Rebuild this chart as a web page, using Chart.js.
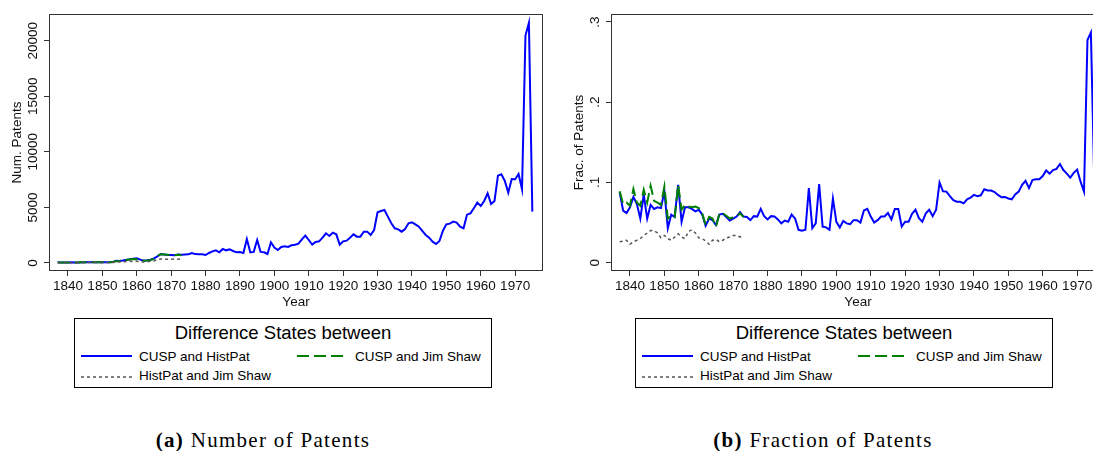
<!DOCTYPE html>
<html>
<head>
<meta charset="utf-8">
<script src="https://cdn.jsdelivr.net/npm/chart.js@4.4.1/dist/chart.umd.min.js"></script>
<style>
  html, body { margin: 0; padding: 0; background: #fff; }
  body { width: 1093px; height: 451px; overflow: hidden; position: relative; font-family: "Liberation Sans", Arial, sans-serif; }
  .panel { position: absolute; top: 0; }
  .legend { position: absolute; top: 318px; width: 416px; height: 68px; border: 1px solid #000; }
  .ltitle { position: absolute; left: 0; right: 0; top: 4px; text-align: center; font-size: 18.5px; line-height: 20px; color: #000; white-space: nowrap; }
  .item { position: absolute; font-size: 13.5px; line-height: 16px; color: #000; white-space: nowrap; }
  .swatch { position: absolute; }
  .caption { position: absolute; top: 430px; width: 400px; text-align: center; font-family: "Liberation Serif", "Times New Roman", serif; font-size: 21px; line-height: 20px; letter-spacing: 1.3px; color: #000; white-space: nowrap; }
</style>
</head>
<body>
<canvas id="numChart" class="panel" width="561" height="312" style="left:0px"></canvas>
<canvas id="fracChart" class="panel" width="561" height="312" style="left:562px"></canvas>
<div id="legendA" class="legend" style="left:74px"></div>
<div id="legendB" class="legend" style="left:635px"></div>
<div class="caption" style="left:63px"><b>(a)</b> Number of Patents</div>
<div class="caption" style="left:623px"><b>(b)</b> Fraction of Patents</div>

<script>
// years 1837 .. 1975
const firstYear = 1837;
const lastYear = 1975;
const years = [];
for (let y = firstYear; y <= lastYear; y++) years.push(y);

const xTicks = [1840, 1850, 1860, 1870, 1880, 1890, 1900, 1910, 1920, 1930, 1940, 1950, 1960, 1970];

const legendTitle = "Difference States between";
const seriesLabels = ["CUSP and HistPat", "CUSP and Jim Shaw", "HistPat and Jim Shaw"];

// number of patents
const numCuspHistpat = [
    60, 50, 50,
    50, 60, 50, 50, 60, 60, 60, 60, 60, 70,
    70, 60, 70, 80, 210, 180, 230, 300, 330, 380,
    420, 300, 210, 250, 300, 420, 600, 810, 760, 720,
    720, 700, 760, 740, 760, 780, 900, 800, 780, 780,
    720, 900, 1050, 1140, 960, 1260, 1140, 1230, 1080, 960,
    980, 900, 2160, 960, 1000, 2070, 1000, 960, 810, 1860,
    1380, 1170, 1440, 1500, 1440, 1590, 1650, 1740, 2130, 2460,
    2070, 1650, 1890, 1950, 2280, 2670, 2430, 2730, 2580, 1650,
    1950, 2010, 2280, 2580, 2370, 2370, 2820, 2820, 2520, 2970,
    4560, 4680, 4770, 4170, 3570, 3120, 3030, 2820, 3060, 3570,
    3660, 3480, 3270, 2880, 2520, 2280, 1920, 1710, 1980, 2910,
    3480, 3540, 3720, 3630, 3270, 3120, 4350, 4470, 4920, 5430,
    5130, 5580, 6270, 5310, 5580, 7860, 7980, 7380, 6330, 7560,
    7530, 8010, 6630, 20460, 21600, 4620
];
const numCuspShaw = [
    50, 50, 50,
    50, 60, 50, 50, 60, 60, 60, 60, 60, 60,
    70, 60, 70, 80, 150, 180, 230, 280, 320, 350,
    330, 260, 200, 230, 280, 360, 650, 780, 760, 740,
    720, 700, 740, 700
];
const numHistpatShaw = [
    30, 20, 30,
    20, 30, 30, 20, 30, 30, 40, 30, 40, 40,
    30, 40, 30, 40, 80, 90, 100, 130, 150, 140,
    160, 130, 100, 110, 150, 180, 330, 360, 350, 330,
    340, 350, 340, 360
];

// fraction of patents
const fracCuspHistpat = [
    .088, .065, .062,
    .069, .082, .073, .055, .085, .055, .072, .067, .069, .068,
    .089, .043, .060, .057, .097, .051, .069, .069, .067, .064,
    .066, .060, .046, .055, .053, .047, .060, .061, .057, .0525,
    .055, .0575, .063, .0575, .057, .053, .058, .0575, .067, .058,
    .054, .058, .0575, .054, .049, .0525, .051, .060, .055, .041,
    .040, .041, .093, .043, .049, .098, .045, .044, .041, .080,
    .051, .044, .052, .049, .048, .053, .053, .050, .065, .067,
    .0575, .050, .053, .0575, .0575, .062, .054, .067, .067, .045,
    .051, .051, .061, .066, .0555, .051, .0615, .066, .058, .066,
    .100, .089, .0886, .083, .078, .076, .076, .074, .079, .081,
    .0845, .083, .084, .0915, .090, .090, .088, .0845, .0815, .082,
    .080, .079, .085, .0886, .097, .102, .093, .103, .104, .104,
    .108, .115, .111, .1155, .117, .123, .1155, .111, .106, .112,
    .116, .101, .0886, .2775, .2868, .098
];
const fracCuspShaw = [
    .089, .073, .075,
    .071, .092, .075, .071, .091, .075, .096, .077, .075, .072,
    .095, .055, .059, .057, .097, .066, .072, .070, .069, .070,
    .068, .0615, .047, .057, .055, .045, .0615, .0615, .0586, .055,
    .0565, .058, .0615, .057
];
const fracHistpatShaw = [
    .026, .027, .028,
    .023, .026, .028, .030, .034, .037, .040, .040, .037, .031,
    .034, .030, .028, .032, .036, .032, .030, .039, .041, .037,
    .031, .030, .027, .023, .028, .029, .026, .028, .031, .032,
    .034, .034, .032, .035
];

const numTicks = [0, 5000, 10000, 15000, 20000];
const numTickLabels = ["0", "5000", "10000", "15000", "20000"];
const fracTicks = [0, 0.1, 0.2, 0.3];
const fracTickLabels = ["0", ".1", ".2", ".3"];

const seriesColors = ["#0000ff", "#008000", "#555555"];
const seriesDash = [[], [12, 5], [3, 3]];
const seriesWidth = [2, 2, 1.5];
const seriesOrder = [3, 2, 1];

const fontFamily = "'Liberation Sans', Arial, sans-serif";
const textColor = "#111";

function toPoints(values) {
    return values.map((v, i) => ({ x: years[i], y: v }));
}

const framePlugin = {
    id: "frame",
    afterDraw(chart) {
        const a = chart.chartArea;
        const c = chart.ctx;
        c.save();
        c.strokeStyle = "#333";
        c.lineWidth = 1;
        c.strokeRect(a.left + 0.5, a.top + 0.5, a.right - a.left - 1, a.bottom - a.top - 1);
        c.restore();
    }
};

function makeChart(canvasId, seriesValues, yInfo) {
    const ctx = document.getElementById(canvasId).getContext("2d");
    return new Chart(ctx, {
        type: "line",
        data: {
            datasets: seriesValues.map((vals, i) => ({
                label: seriesLabels[i],
                data: toPoints(vals),
                borderColor: seriesColors[i],
                borderWidth: seriesWidth[i],
                borderDash: seriesDash[i],
                order: seriesOrder[i],
                pointRadius: 0,
                tension: 0,
                fill: false
            }))
        },
        options: {
            responsive: false,
            animation: false,
            layout: { padding: { top: 14, right: 18, bottom: 0, left: 0 } },
            plugins: {
                legend: { display: false },
                tooltip: { enabled: false }
            },
            scales: {
                x: {
                    type: "linear",
                    min: 1834.48,
                    max: 1978.1,
                    afterBuildTicks: s => { s.ticks = xTicks.map(v => ({ value: v })); },
                    afterFit: s => { s.height = 41; },
                    border: { display: false },
                    grid: { display: true, drawOnChartArea: false, drawTicks: true, tickLength: 5, tickColor: "#333" },
                    ticks: {
                        autoSkip: false, maxRotation: 0, minRotation: 0, padding: 2,
                        color: textColor, font: { family: fontFamily, size: 13.5 },
                        callback: v => String(v)
                    },
                    title: {
                        display: true, text: "Year", color: textColor,
                        font: { family: fontFamily, size: 13.5 },
                        padding: { top: 0, bottom: 2 }
                    }
                },
                y: {
                    type: "linear",
                    min: yInfo.min,
                    max: yInfo.max,
                    afterBuildTicks: s => { s.ticks = yInfo.ticks.map(v => ({ value: v })); },
                    afterFit: s => { s.width = 49; },
                    border: { display: false },
                    grid: { display: true, drawOnChartArea: false, drawTicks: true, tickLength: 5, tickColor: "#333" },
                    ticks: {
                        autoSkip: false, minRotation: 90, maxRotation: 90,
                        crossAlign: "center", padding: yInfo.tickPadding,
                        color: textColor, font: { family: fontFamily, size: 13.5 },
                        callback: (v, i) => yInfo.labels[i]
                    },
                    title: {
                        display: true, text: yInfo.title, color: textColor,
                        font: { family: fontFamily, size: 13.5 },
                        padding: { top: 9, bottom: 0 }
                    }
                }
            }
        },
        plugins: [framePlugin]
    });
}

function buildLegend(id) {
    const box = document.getElementById(id);
    const slots = [
        { sx: 6, sy: 34, tx: 64, ty: 30 },
        { sx: 222, sy: 34, tx: 280, ty: 30 },
        { sx: 6, sy: 55, tx: 64, ty: 49 }
    ];
    let html = `<div class="ltitle">${legendTitle}</div>`;
    seriesLabels.forEach((label, i) => {
        const s = slots[i];
        const dash = seriesDash[i].length ? `stroke-dasharray="${seriesDash[i].join(" ")}"` : "";
        html += `<svg class="swatch" width="51" height="6" style="left:${s.sx}px;top:${s.sy}px">
            <line x1="0" y1="3" x2="51" y2="3" stroke="${seriesColors[i]}" stroke-width="${seriesWidth[i]}" ${dash}/></svg>`;
        html += `<div class="item" style="left:${s.tx}px;top:${s.ty}px">${label}</div>`;
    });
    box.innerHTML = html;
}

makeChart("numChart", [numCuspHistpat, numCuspShaw, numHistpatShaw], {
    min: -720, max: 22400, ticks: numTicks, labels: numTickLabels,
    title: "Num. Patents", tickPadding: -7.8
});
makeChart("fracChart", [fracCuspHistpat, fracCuspShaw, fracHistpatShaw], {
    min: -0.01035, max: 0.30997, ticks: fracTicks, labels: fracTickLabels,
    title: "Frac. of Patents", tickPadding: 5.4
});
buildLegend("legendA");
buildLegend("legendB");
</script>
</body>
</html>
